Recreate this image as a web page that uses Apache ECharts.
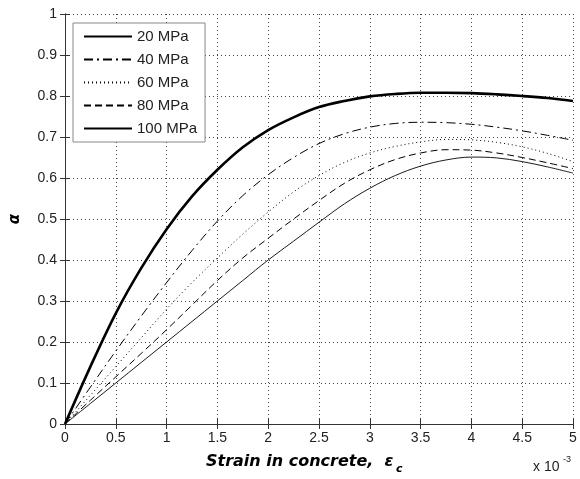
<!DOCTYPE html>
<html>
<head>
<meta charset="utf-8">
<script src="https://cdn.jsdelivr.net/npm/echarts@6/dist/echarts.min.js"></script>
<style>
html,body{margin:0;padding:0;background:#fff;}
#c{width:580px;height:479px;}
</style>
</head>
<body>
<div id="c"></div>
<script>
// Strain in concrete (x 10^-3)
const strain = [0, 0.25, 0.5, 0.75, 1, 1.25, 1.5, 1.75, 2, 2.25, 2.5, 2.75, 3, 3.25, 3.5, 3.75, 4, 4.25, 4.5, 4.75, 5];
const seriesNames = ['20 MPa', '40 MPa', '60 MPa', '80 MPa', '100 MPa'];
const alpha20  = [0, 0.14, 0.27, 0.38, 0.475, 0.555, 0.62, 0.675, 0.717, 0.748, 0.773, 0.788, 0.799, 0.805, 0.808, 0.808, 0.807, 0.804, 0.800, 0.795, 0.788];
const alpha40  = [0, 0.09, 0.178, 0.263, 0.345, 0.423, 0.495, 0.557, 0.608, 0.65, 0.684, 0.708, 0.724, 0.733, 0.736, 0.735, 0.731, 0.724, 0.715, 0.704, 0.692];
const alpha60  = [0, 0.07, 0.14, 0.21, 0.28, 0.345, 0.405, 0.463, 0.517, 0.566, 0.606, 0.638, 0.661, 0.677, 0.688, 0.694, 0.693, 0.687, 0.676, 0.66, 0.64];
const alpha80  = [0, 0.058, 0.115, 0.172, 0.23, 0.29, 0.35, 0.405, 0.453, 0.50, 0.545, 0.587, 0.62, 0.645, 0.661, 0.669, 0.668, 0.661, 0.65, 0.637, 0.623];
const alpha100 = [0, 0.05, 0.10, 0.15, 0.20, 0.25, 0.30, 0.35, 0.40, 0.446, 0.492, 0.537, 0.575, 0.606, 0.629, 0.644, 0.651, 0.649, 0.64, 0.627, 0.612];
const yTicks = [0, 0.1, 0.2, 0.3, 0.4, 0.5, 0.6, 0.7, 0.8, 0.9, 1];
const xTicks = [0, 0.5, 1, 1.5, 2, 2.5, 3, 3.5, 4, 4.5, 5];

const values = [alpha20, alpha40, alpha60, alpha80, alpha100];
const styles = [
  {width: 2.6, type: 'solid'},
  {width: 1, type: [9, 4, 2, 4]},
  {width: 1, type: [1, 3]},
  {width: 1, type: [7, 4]},
  {width: 0.9, type: 'solid'}
];

const chart = echarts.init(document.getElementById('c'), null, {renderer: 'canvas'});
const font = 'Liberation Sans, Arial, sans-serif';
const axisCommon = {
  type: 'value',
  axisLine: {show: true, lineStyle: {color: '#333', width: 1}},
  axisTick: {show: true, inside: true, length: 5, lineStyle: {color: '#333'}},
  splitLine: {show: false}
};

chart.setOption({
  animation: false,
  backgroundColor: '#fff',
  grid: {left: 52, right: 7, top: 14, bottom: 55, containLabel: false},
  legend: {
    orient: 'vertical',
    left: 73, top: 23,
    data: seriesNames,
    itemWidth: 48, itemHeight: 14, itemGap: 8,
    padding: [6, 8, 6, 10],
    borderColor: '#888', borderWidth: 1,
    backgroundColor: '#fff',
    itemStyle: {opacity: 0, borderWidth: 0},
    textStyle: {fontFamily: font, fontSize: 15, color: '#222'}
  },
  xAxis: [
    Object.assign({}, axisCommon, {
      min: xTicks[0], max: xTicks[xTicks.length - 1], interval: 0.5,
      position: 'bottom',
      axisLabel: {fontFamily: font, fontSize: 14, color: '#222', margin: 7},
      splitLine: {show: true, lineStyle: {color: '#444', type: [1, 3], width: 1}}
    }),
    Object.assign({}, axisCommon, {
      min: 0, max: 5, interval: 0.5, position: 'top',
      axisLabel: {show: false}
    })
  ],
  yAxis: [
    Object.assign({}, axisCommon, {
      min: yTicks[0], max: yTicks[yTicks.length - 1], interval: 0.1,
      position: 'left',
      name: 'α', nameLocation: 'middle', nameGap: 42,
      nameTextStyle: {fontFamily: 'DejaVu Sans', fontWeight: 'bold', fontStyle: 'italic', fontSize: 15, color: '#000'},
      axisLabel: {fontFamily: font, fontSize: 14, color: '#222', margin: 8},
      splitLine: {show: true, lineStyle: {color: '#444', type: [1, 3], width: 1}}
    }),
    Object.assign({}, axisCommon, {
      min: 0, max: 1, interval: 0.1, position: 'right',
      axisLabel: {show: false}
    })
  ],
  series: seriesNames.map((n, i) => ({
    name: n,
    type: 'line',
    xAxisIndex: 0, yAxisIndex: 0,
    data: strain.map((x, j) => [x, values[i][j]]),
    smooth: 0.35,
    symbol: 'none',
    lineStyle: {color: '#000', width: styles[i].width, type: styles[i].type},
    itemStyle: {color: '#000'}
  })),
  graphic: [
    {type: 'text', left: 206, top: 454,
     style: {text: 'Strain in concrete,  ε', font: 'italic bold 16px "DejaVu Sans"', fill: '#000'}},
    {type: 'text', left: 396, top: 464,
     style: {text: 'c', font: 'italic bold 11px "DejaVu Sans"', fill: '#000'}},
    {type: 'text', left: 533, top: 460,
     style: {text: 'x 10', font: '14px ' + font, fill: '#222'}},
    {type: 'text', left: 563, top: 455,
     style: {text: '-3', font: '9px ' + font, fill: '#222'}}
  ]
});
</script>
</body>
</html>
